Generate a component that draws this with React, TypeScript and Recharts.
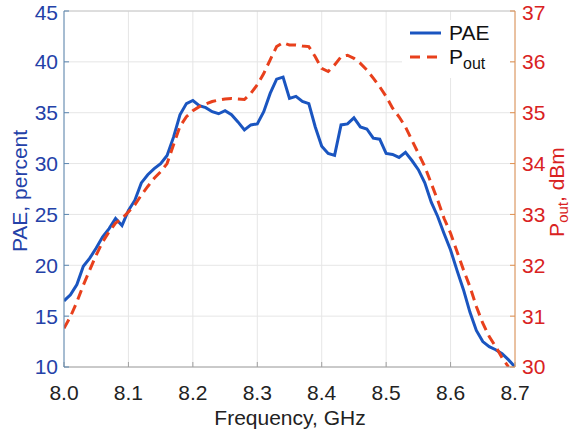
import React from 'react';
import { ComposedChart, Line, XAxis, YAxis, CartesianGrid, ReferenceLine, Legend } from 'recharts';

const freq = [
  8.00, 8.01, 8.02, 8.03, 8.04, 8.05, 8.06, 8.07, 8.08, 8.09,
  8.10, 8.11, 8.12, 8.13, 8.14, 8.15, 8.16, 8.17, 8.18, 8.19,
  8.20, 8.21, 8.22, 8.23, 8.24, 8.25, 8.26, 8.27, 8.28, 8.29,
  8.30, 8.31, 8.32, 8.33, 8.34, 8.35, 8.36, 8.37, 8.38, 8.39,
  8.40, 8.41, 8.42, 8.43, 8.44, 8.45, 8.46, 8.47, 8.48, 8.49,
  8.50, 8.51, 8.52, 8.53, 8.54, 8.55, 8.56, 8.57, 8.58, 8.59,
  8.60, 8.61, 8.62, 8.63, 8.64, 8.65, 8.66, 8.67, 8.68, 8.69,
  8.70,
];

const paePercent = [
  16.5, 17.1, 18.1, 19.9, 20.7, 21.7, 22.8, 23.6, 24.6, 23.9,
  25.4, 26.4, 28.1, 28.9, 29.5, 30.0, 30.8, 32.6, 34.8, 35.9,
  36.2, 35.7, 35.5, 35.1, 34.9, 35.2, 34.8, 34.1, 33.3, 33.8,
  33.9, 35.1, 36.9, 38.3, 38.5, 36.4, 36.6, 36.1, 35.9, 33.6,
  31.7, 31.0, 30.8, 33.8, 33.9, 34.5, 33.6, 33.4, 32.5, 32.4,
  31.0, 30.9, 30.6, 31.1, 30.3, 29.4, 28.1, 26.2, 24.8, 23.1,
  21.5, 19.5, 17.6, 15.4, 13.6, 12.5, 12.0, 11.7, 11.3, 10.7,
  10.0,
];

const poutDbm: (number | null)[] = [
  30.76, 30.99, 31.28, 31.61, 31.91, 32.2, 32.46, 32.66, 32.83, 32.92,
  33.05, 33.19, 33.38, 33.55, 33.71, 33.84, 34.0, 34.37, 34.73, 34.92,
  35.04, 35.12, 35.17, 35.22, 35.25, 35.27, 35.28, 35.27, 35.26, 35.38,
  35.55, 35.77, 36.04, 36.3, 36.38, 36.33, 36.33, 36.31, 36.3, 36.1,
  35.87, 35.81, 35.94, 36.1, 36.13, 36.07, 35.97, 35.84, 35.68, 35.51,
  35.32, 35.09, 34.92, 34.72, 34.46, 34.2, 33.94, 33.61, 33.28, 32.92,
  32.63, 32.27, 31.91, 31.58, 31.19, 30.86, 30.6, 30.4, 30.18, 30.0,
  null,
];

const xTicks = [8.0, 8.1, 8.2, 8.3, 8.4, 8.5, 8.6, 8.7];
const leftTicks = [10, 15, 20, 25, 30, 35, 40, 45];
const rightTicks = [30, 31, 32, 33, 34, 35, 36, 37];

const data = freq.map((f, i) => ({ f, pae: paePercent[i], pout: poutDbm[i] }));

const FONT = '"Liberation Sans", Arial, Helvetica, sans-serif';
const BLUE = '#1a55c0';
const RED = '#e8401c';
const BLUE_TXT = '#2441a8';
const RED_TXT = '#d92222';

const LegendBox = () => (
  <svg width={108} height={58} style={{ display: 'block', background: '#fff' }}>
    <line x1={8} y1={13} x2={39} y2={13} stroke={BLUE} strokeWidth={3} />
    <text x={47} y={20} fontFamily={FONT} fontSize={21} fill="#111">PAE</text>
    <line x1={8} y1={37} x2={41} y2={37} stroke={RED} strokeWidth={3} strokeDasharray="10 7" />
    <text x={47} y={44} fontFamily={FONT} fontSize={21} fill="#111">
      <tspan>P</tspan>
      <tspan dy={5} fontSize={16}>out</tspan>
    </text>
  </svg>
);

export default function App() {
  return (
    <div style={{ position: 'absolute', left: 0, top: 0, background: '#fff' }}>
      <ComposedChart
        width={570}
        height={431}
        data={data}
        margin={{ top: 11, right: 0, bottom: 34, left: 0 }}
        style={{ fontFamily: FONT }}
      >
        <CartesianGrid stroke="#e6e6e6" strokeWidth={1} yAxisId="l" />
        <XAxis
          dataKey="f"
          type="number"
          domain={[8, 8.7]}
          ticks={xTicks}
          allowDataOverflow
          tickFormatter={(v: number) => v.toFixed(1)}
          height={30}
          tickSize={-5}
          tickMargin={23}
          stroke="#a0a0a0"
          tick={{ fill: '#222', fontSize: 21, fontFamily: FONT }}
          label={{
            content: () => (
              <text x={290} y={425} textAnchor="middle" fontFamily={FONT} fontSize={21} fill="#222">
                Frequency, GHz
              </text>
            ),
          }}
        />
        <YAxis
          yAxisId="l"
          orientation="left"
          domain={[10, 45]}
          ticks={leftTicks}
          allowDataOverflow
          width={64}
          tickSize={-5}
          tickMargin={11}
          stroke="#5b86b0"
          tick={{ fill: BLUE_TXT, fontSize: 21, fontFamily: FONT }}
          label={{
            content: () => (
              <text
                x={27}
                y={191}
                transform="rotate(-90 27 191)"
                textAnchor="middle"
                fontFamily={FONT}
                fontSize={21}
                fill={BLUE_TXT}
              >
                PAE, percent
              </text>
            ),
          }}
        />
        <YAxis
          yAxisId="r"
          orientation="right"
          domain={[30, 37]}
          ticks={rightTicks}
          allowDataOverflow
          width={55}
          tickSize={-5}
          tickMargin={12}
          stroke="#e09050"
          tick={{ fill: RED_TXT, fontSize: 21, fontFamily: FONT }}
          label={{
            content: () => (
              <text
                x={564}
                y={192}
                transform="rotate(-90 564 192)"
                textAnchor="middle"
                fontFamily={FONT}
                fontSize={21}
                fill={RED_TXT}
              >
                <tspan>P</tspan>
                <tspan dy={4} fontSize={15}>out</tspan>
                <tspan dy={-4}>, dBm</tspan>
              </text>
            ),
          }}
        />
        <ReferenceLine yAxisId="l" y={45} stroke="#c8c8c8" strokeWidth={1} />
        <Line
          yAxisId="l"
          dataKey="pae"
          type="linear"
          stroke={BLUE}
          strokeWidth={3}
          dot={false}
          isAnimationActive={false}
        />
        <Line
          yAxisId="r"
          dataKey="pout"
          type="linear"
          stroke={RED}
          strokeWidth={3}
          strokeDasharray="10 6"
          dot={false}
          isAnimationActive={false}
        />
        <Legend
          layout="horizontal"
          verticalAlign="middle"
          align="center"
          content={() => <LegendBox />}
          wrapperStyle={{ position: 'absolute', left: 402, top: 20, width: 108, height: 58 }}
        />
      </ComposedChart>
    </div>
  );
}
